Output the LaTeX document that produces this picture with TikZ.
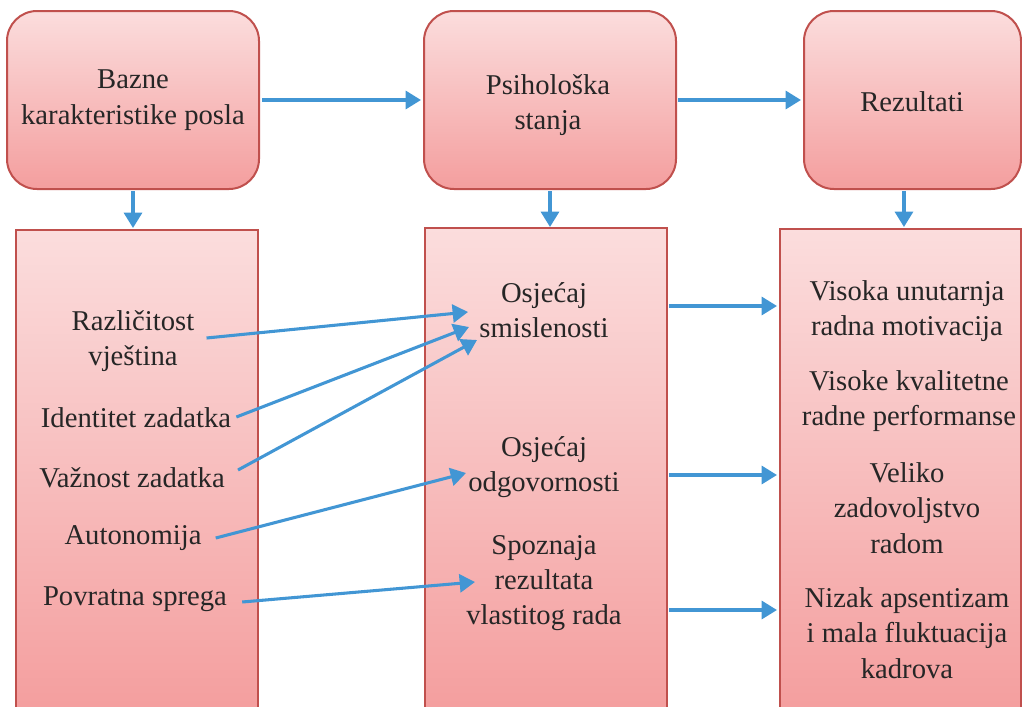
\documentclass[tikz,border=0pt]{standalone}
\usepackage{fontspec}
\setmainfont{Liberation Serif}
\usepackage{xcolor}
\usepackage{tikz}
\usetikzlibrary{arrows.meta}

\definecolor{boxedge}{RGB}{192,80,77}
\definecolor{boxtop}{RGB}{251,221,221}
\definecolor{boxbottom}{RGB}{244,158,158}
\definecolor{flowblue}{RGB}{66,150,212}
\definecolor{inkgray}{RGB}{38,38,38}

\tikzset{
  stagebox/.style={draw=boxedge, line width=1.5pt, top color=boxtop, bottom color=boxbottom,
    inner sep=0pt, outer sep=0pt, align=center, text=inkgray},
  itemtext/.style={inner sep=0pt, align=center, text=inkgray},
  flow/.style={draw=flowblue, line width=2.3pt, -{Triangle[length=11.5pt,width=13.5pt]}}
}

\begin{document}
\begin{tikzpicture}[x=0.75pt,y=-0.75pt,font=\fontsize{21.5}{26.5}\selectfont]
  \clip (0,0) rectangle (1022,707);
  % upper row
  \node[stagebox, rounded corners=22.5pt, minimum width=189pt, minimum height=133.5pt] (core) at (133,100) {Bazne\\karakteristike posla};
  \node[stagebox, rounded corners=22.5pt, minimum width=189pt, minimum height=133.5pt] (state) at (550,100) {};
  \node[itemtext] (stateText) at (548,105) {Psihološka\\stanja};
  \node[stagebox, rounded corners=22.5pt, minimum width=162.75pt, minimum height=133.5pt] (result) at (912.5,100) {};
  \node[itemtext] (resultText) at (912,102) {Rezultati};
  % lower row
  \node[stagebox, minimum width=181.5pt, minimum height=361.5pt] (coreList) at (137,471) {};
  \node[stagebox, minimum width=181.5pt, minimum height=363pt] (stateList) at (546,470) {};
  \node[stagebox, minimum width=180.75pt, minimum height=362.25pt] (resultList) at (900.5,470.5) {};
  % job characteristics
  \node[itemtext] (skill) at (133,341) {Različitost\\vještina};
  \node[itemtext] (identity) at (136,418) {Identitet zadatka};
  \node[itemtext] (significance) at (132,478) {Važnost zadatka};
  \node[itemtext] (autonomy) at (133,538) {Autonomija};
  \node[itemtext] (feedback) at (135,599) {Povratna sprega};
  % psychological states
  \node[itemtext] (meaning) at (544,310) {Osjećaj\\smislenosti};
  \node[itemtext] (responsibility) at (544,467) {Osjećaj\\odgovornosti};
  \node[itemtext] (knowledge) at (544,583) {Spoznaja\\rezultata\\vlastitog rada};
  % outcomes
  \node[itemtext] (motivation) at (907,311) {Visoka unutarnja\\radna motivacija};
  \node[itemtext] (performance) at (909,401) {Visoke kvalitetne\\radne performanse};
  \node[itemtext] (satisfaction) at (907,508) {Veliko\\zadovoljstvo\\radom};
  \node[itemtext] (absence) at (907,633) {Nizak apsentizam\\i mala fluktuacija\\kadrova};
  % arrow ends
  \coordinate (meaningA) at (468,312);
  \coordinate (meaningB) at (469,327);
  \coordinate (meaningC) at (477,340);
  \coordinate (responsibilityA) at (466,473);
  \coordinate (knowledgeA) at (475,582);
  \coordinate (resultDrop) at ([xshift=-6.4pt]result.south);
  % connectors
  \draw[flow, shorten <=2.25pt, shorten >=2.25pt] (core) -- (state);
  \draw[flow, shorten <=1.5pt, shorten >=2.25pt] (state) -- (result);
  \draw[flow, shorten <=1.5pt, shorten >=1.5pt] (core.south) -- (core.south |- coreList.north);
  \draw[flow, shorten <=1.5pt, shorten >=0.75pt] (state.south) -- (state.south |- stateList.north);
  \draw[flow, shorten <=1.5pt, shorten >=1.5pt] (resultDrop) -- (resultDrop |- resultList.north);
  \draw[flow] ([shift={(12,-3)}]skill.east) -- (meaningA);
  \draw[flow] ([shift={(5,-1)}]identity.east) -- (meaningB);
  \draw[flow] ([shift={(13,-8)}]significance.east) -- (meaningC);
  \draw[flow] ([shift={(14,0)}]autonomy.east) -- (responsibilityA);
  \draw[flow] ([shift={(15,3)}]feedback.east) -- (knowledgeA);
  \foreach \y in {306,475,610}
    \draw[flow, shorten <=1.5pt, shorten >=2.25pt] (stateList.east |- 0,\y) -- (resultList.west |- 0,\y);
\end{tikzpicture}
\end{document}
